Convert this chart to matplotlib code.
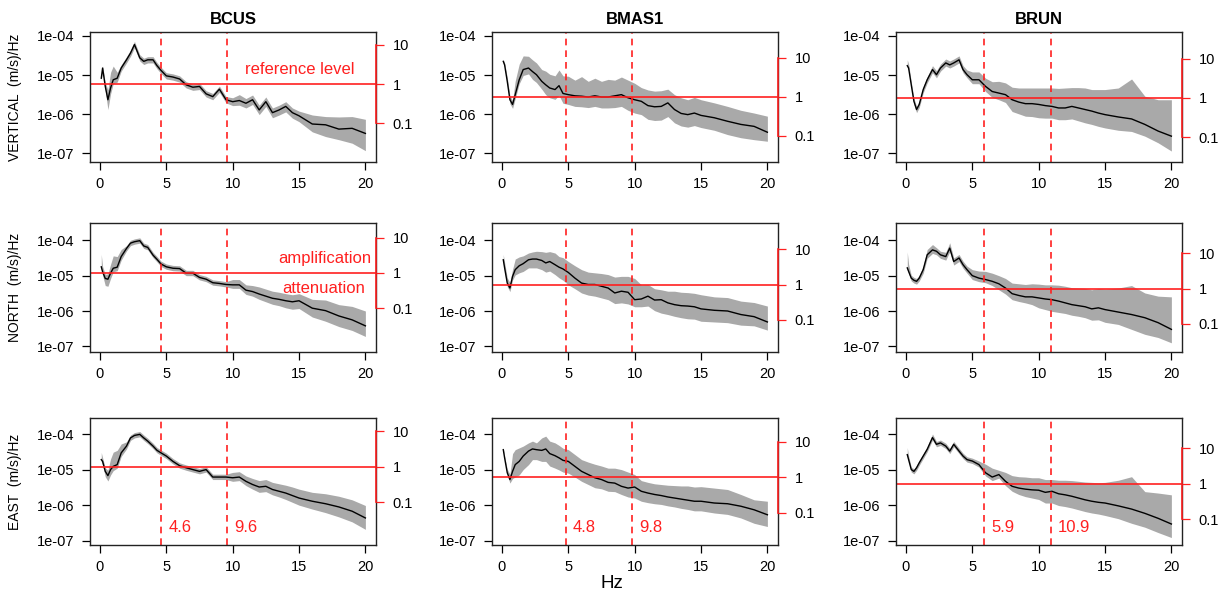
import numpy as np
import matplotlib
matplotlib.use('Agg')
import matplotlib.pyplot as plt

plt.rcParams['font.family'] = ['Liberation Sans', 'DejaVu Sans']

# frequency grid (Hz) on which the curves were read
freq = [0.1, 0.2, 0.4, 0.6, 0.8, 1.0, 1.3, 1.6, 2.0, 2.3, 2.6, 3.0, 3.3, 3.6, 4.0, 4.3, 4.6,
        5.0, 5.5, 6.0, 6.5, 7.0, 7.5, 8.0, 8.5, 9.0, 9.5, 10, 10.5, 11, 11.5, 12, 12.5,
        13, 13.5, 14, 14.5, 15, 16, 17, 18, 19, 20]

# median spectra, log10((m/s)/Hz), and band widths above / below (log10 units)
bcus_v_med = [-5.08, -4.82, -5.29, -5.63, -5.33, -5.12, -5.08, -4.82, -4.61, -4.44, -4.22, -4.56, -4.65,
              -4.61, -4.61, -4.76, -4.88, -5.02, -5.05, -5.10, -5.25, -5.31, -5.29, -5.48, -5.55, -5.36,
              -5.63, -5.68, -5.65, -5.72, -5.63, -5.89, -5.68, -5.96, -5.89, -5.80, -5.96, -6.04, -6.25,
              -6.27, -6.38, -6.36, -6.49]
bcus_v_up = [0.05, 0.05, 0.1, 0.25, 0.4, 0.35, 0.15, 0.08, 0.08, 0.08, 0.08, 0.08, 0.08, 0.08, 0.08,
             0.08, 0.08, 0.08, 0.08, 0.08, 0.08, 0.08, 0.08, 0.08, 0.08, 0.08, 0.08, 0.1, 0.15, 0.12,
             0.12, 0.12, 0.12, 0.12, 0.12, 0.12, 0.12, 0.12, 0.23, 0.21, 0.31, 0.3, 0.36]
bcus_v_dn = [0.05, 0.05, 0.1, 0.25, 0.15, 0.1, 0.1, 0.08, 0.08, 0.08, 0.08, 0.08, 0.08, 0.08, 0.08,
             0.08, 0.08, 0.08, 0.08, 0.08, 0.08, 0.08, 0.08, 0.08, 0.08, 0.08, 0.08, 0.1, 0.12, 0.12,
             0.12, 0.12, 0.12, 0.13, 0.13, 0.14, 0.14, 0.15, 0.2, 0.3, 0.27, 0.38, 0.44]

bcus_n_med = [-4.75, -4.89, -5.08, -5.10, -4.93, -4.79, -4.76, -4.46, -4.23, -4.08, -4.04, -4.01, -4.16,
              -4.20, -4.42, -4.54, -4.67, -4.75, -4.79, -4.80, -4.93, -4.93, -5.05, -5.10, -5.20, -5.22,
              -5.25, -5.26, -5.26, -5.41, -5.45, -5.52, -5.58, -5.64, -5.67, -5.71, -5.74, -5.71, -5.92,
              -5.99, -6.14, -6.25, -6.42]
bcus_n_up = [0.35, 0.15, 0.12, 0.15, 0.25, 0.35, 0.3, 0.2, 0.08, 0.08, 0.08, 0.08, 0.08, 0.08, 0.08,
             0.08, 0.08, 0.08, 0.08, 0.08, 0.08, 0.08, 0.08, 0.08, 0.08, 0.08, 0.08, 0.15, 0.15, 0.15,
             0.17, 0.2, 0.2, 0.2, 0.2, 0.2, 0.2, 0.2, 0.25, 0.3, 0.32, 0.38, 0.42]
bcus_n_dn = [0.05, 0.1, 0.2, 0.2, 0.15, 0.1, 0.1, 0.1, 0.07, 0.07, 0.07, 0.07, 0.07, 0.07, 0.07,
             0.07, 0.07, 0.07, 0.07, 0.07, 0.07, 0.07, 0.07, 0.07, 0.07, 0.07, 0.07, 0.1, 0.1, 0.12,
             0.13, 0.15, 0.16, 0.17, 0.18, 0.2, 0.21, 0.22, 0.25, 0.3, 0.3, 0.3, 0.3]

bcus_e_med = [-4.72, -4.77, -5.05, -5.17, -5.00, -4.91, -4.86, -4.53, -4.34, -4.11, -4.04, -4.01, -4.11,
              -4.20, -4.34, -4.46, -4.53, -4.62, -4.77, -4.89, -4.95, -5.00, -5.05, -5.00, -5.21, -5.21,
              -5.21, -5.23, -5.21, -5.33, -5.42, -5.49, -5.47, -5.56, -5.61, -5.66, -5.73, -5.80, -5.89,
              -5.96, -6.05, -6.17, -6.36]
bcus_e_up = [0.2, 0.1, 0.1, 0.15, 0.3, 0.4, 0.4, 0.25, 0.12, 0.08, 0.08, 0.08, 0.08, 0.08, 0.08,
             0.08, 0.08, 0.08, 0.08, 0.08, 0.08, 0.08, 0.08, 0.08, 0.08, 0.08, 0.08, 0.15, 0.15, 0.15,
             0.17, 0.18, 0.19, 0.2, 0.21, 0.22, 0.24, 0.25, 0.25, 0.28, 0.3, 0.32, 0.35]
bcus_e_dn = [0.05, 0.1, 0.15, 0.15, 0.15, 0.12, 0.1, 0.1, 0.08, 0.07, 0.07, 0.07, 0.07, 0.07, 0.07,
             0.07, 0.07, 0.07, 0.07, 0.07, 0.07, 0.07, 0.07, 0.07, 0.07, 0.07, 0.07, 0.1, 0.1, 0.12,
             0.13, 0.15, 0.15, 0.15, 0.16, 0.18, 0.19, 0.2, 0.22, 0.25, 0.28, 0.3, 0.32]

bmas_v_med = [-4.65, -4.74, -5.16, -5.63, -5.75, -5.50, -5.12, -4.86, -4.82, -4.91, -4.99, -5.16, -5.25,
              -5.33, -5.37, -5.27, -5.47, -5.50, -5.53, -5.54, -5.56, -5.53, -5.56, -5.56, -5.53, -5.50,
              -5.58, -5.63, -5.67, -5.78, -5.81, -5.80, -5.71, -5.88, -5.98, -6.01, -5.97, -6.03, -6.09,
              -6.18, -6.26, -6.31, -6.46]
bmas_v_up = [0.05, 0.05, 0.1, 0.1, 0.1, 0.35, 0.4, 0.35, 0.3, 0.3, 0.3, 0.3, 0.35, 0.35, 0.35,
             0.4, 0.45, 0.47, 0.4, 0.5, 0.4, 0.45, 0.4, 0.45, 0.4, 0.45, 0.45, 0.42, 0.35, 0.4,
             0.4, 0.4, 0.35, 0.38, 0.4, 0.38, 0.4, 0.4, 0.38, 0.38, 0.36, 0.34, 0.41]
bmas_v_dn = [0.05, 0.05, 0.1, 0.1, 0.1, 0.1, 0.1, 0.15, 0.15, 0.2, 0.2, 0.2, 0.25, 0.25, 0.25,
             0.25, 0.25, 0.25, 0.27, 0.27, 0.27, 0.27, 0.28, 0.28, 0.3, 0.3, 0.32, 0.34, 0.34, 0.35,
             0.35, 0.35, 0.35, 0.34, 0.32, 0.32, 0.32, 0.31, 0.32, 0.34, 0.34, 0.34, 0.23]

bmas_n_med = [-4.55, -4.78, -5.21, -5.35, -5.02, -4.83, -4.72, -4.66, -4.55, -4.53, -4.53, -4.57, -4.64,
              -4.60, -4.69, -4.76, -4.81, -4.91, -5.07, -5.21, -5.25, -5.25, -5.30, -5.35, -5.49, -5.44,
              -5.47, -5.68, -5.66, -5.58, -5.69, -5.68, -5.77, -5.82, -5.85, -5.86, -5.88, -5.94, -5.98,
              -6.00, -6.10, -6.16, -6.31]
bmas_n_up = [0.15, 0.15, 0.15, 0.15, 0.2, 0.3, 0.25, 0.22, 0.19, 0.2, 0.22, 0.25, 0.3, 0.28, 0.33,
             0.3, 0.32, 0.31, 0.35, 0.38, 0.35, 0.33, 0.36, 0.38, 0.45, 0.42, 0.45, 0.6, 0.4, 0.33,
             0.32, 0.28, 0.33, 0.38, 0.38, 0.38, 0.38, 0.4, 0.38, 0.38, 0.38, 0.4, 0.45]
bmas_n_dn = [0.1, 0.1, 0.1, 0.1, 0.1, 0.15, 0.2, 0.22, 0.23, 0.25, 0.25, 0.26, 0.26, 0.27, 0.28,
             0.3, 0.32, 0.35, 0.3, 0.28, 0.3, 0.33, 0.33, 0.33, 0.3, 0.33, 0.33, 0.2, 0.22, 0.28,
             0.3, 0.38, 0.33, 0.33, 0.34, 0.36, 0.35, 0.35, 0.33, 0.33, 0.3, 0.26, 0.23]

bmas_e_med = [-4.44, -4.67, -5.09, -5.28, -5.05, -4.86, -4.77, -4.62, -4.48, -4.42, -4.44, -4.46, -4.42,
              -4.55, -4.61, -4.67, -4.74, -4.77, -4.91, -5.05, -5.14, -5.23, -5.28, -5.36, -5.38, -5.47,
              -5.52, -5.49, -5.61, -5.66, -5.70, -5.73, -5.77, -5.80, -5.83, -5.86, -5.89, -5.89, -5.94,
              -5.96, -6.03, -6.13, -6.27]
bmas_e_up = [0.05, 0.05, 0.1, 0.15, 0.5, 0.42, 0.38, 0.28, 0.23, 0.22, 0.19, 0.35, 0.36, 0.35, 0.36,
             0.35, 0.34, 0.33, 0.33, 0.33, 0.35, 0.38, 0.38, 0.4, 0.42, 0.47, 0.45, 0.35, 0.3, 0.3,
             0.3, 0.31, 0.33, 0.35, 0.37, 0.4, 0.4, 0.41, 0.42, 0.4, 0.33, 0.28, 0.38]
bmas_e_dn = [0.05, 0.05, 0.05, 0.1, 0.2, 0.35, 0.38, 0.38, 0.38, 0.3, 0.28, 0.31, 0.35, 0.35, 0.35,
             0.34, 0.33, 0.33, 0.3, 0.28, 0.28, 0.28, 0.26, 0.25, 0.24, 0.23, 0.25, 0.31, 0.28, 0.27,
             0.26, 0.25, 0.25, 0.25, 0.26, 0.26, 0.27, 0.27, 0.28, 0.3, 0.33, 0.38, 0.33]

brun_v_med = [-4.76, -4.82, -5.25, -5.67, -5.88, -5.75, -5.37, -5.12, -4.86, -4.99, -4.82, -4.69, -4.74,
              -4.69, -4.61, -4.86, -4.99, -5.12, -5.12, -5.29, -5.42, -5.46, -5.50, -5.63, -5.69, -5.73,
              -5.73, -5.75, -5.78, -5.80, -5.84, -5.84, -5.80, -5.84, -5.88, -5.92, -5.97, -6.01, -6.07,
              -6.12, -6.26, -6.43, -6.56]
brun_v_up = [0.15, 0.1, 0.08, 0.08, 0.08, 0.08, 0.08, 0.08, 0.1, 0.1, 0.1, 0.1, 0.1, 0.1, 0.1,
             0.1, 0.12, 0.2, 0.2, 0.21, 0.25, 0.3, 0.3, 0.32, 0.36, 0.4, 0.4, 0.42, 0.45, 0.47,
             0.5, 0.51, 0.48, 0.52, 0.55, 0.55, 0.6, 0.64, 0.74, 1.02, 0.72, 0.8, 0.93]
brun_v_dn = [0.05, 0.05, 0.08, 0.08, 0.08, 0.08, 0.08, 0.08, 0.08, 0.08, 0.08, 0.08, 0.08, 0.08, 0.08,
             0.08, 0.08, 0.1, 0.1, 0.13, 0.15, 0.17, 0.2, 0.3, 0.3, 0.32, 0.33, 0.34, 0.32, 0.3,
             0.3, 0.3, 0.32, 0.33, 0.34, 0.34, 0.34, 0.34, 0.34, 0.32, 0.3, 0.3, 0.38]

brun_n_med = [-4.78, -4.88, -5.07, -5.13, -5.16, -5.07, -4.83, -4.41, -4.27, -4.31, -4.41, -4.46, -4.22,
              -4.60, -4.50, -4.69, -4.83, -5.00, -5.07, -5.11, -5.16, -5.23, -5.35, -5.51, -5.56, -5.60,
              -5.60, -5.63, -5.66, -5.68, -5.72, -5.77, -5.82, -5.85, -5.88, -5.94, -5.91, -5.96, -6.03,
              -6.10, -6.19, -6.33, -6.52]
brun_n_up = [0.45, 0.2, 0.08, 0.08, 0.08, 0.08, 0.1, 0.15, 0.15, 0.1, 0.1, 0.12, 0.15, 0.1, 0.1,
             0.1, 0.1, 0.17, 0.2, 0.23, 0.23, 0.23, 0.27, 0.3, 0.33, 0.35, 0.37, 0.39, 0.4, 0.42,
             0.45, 0.47, 0.48, 0.5, 0.52, 0.54, 0.55, 0.58, 0.68, 0.82, 0.7, 0.75, 0.92]
brun_n_dn = [0.05, 0.05, 0.08, 0.08, 0.08, 0.08, 0.1, 0.1, 0.1, 0.1, 0.1, 0.1, 0.1, 0.1, 0.1,
             0.1, 0.1, 0.11, 0.1, 0.09, 0.12, 0.17, 0.17, 0.17, 0.17, 0.17, 0.22, 0.28, 0.3, 0.33,
             0.32, 0.3, 0.3, 0.3, 0.31, 0.32, 0.34, 0.36, 0.35, 0.42, 0.47, 0.42, 0.38]

brun_e_med = [-4.58, -4.72, -5.00, -5.05, -4.95, -4.81, -4.62, -4.43, -4.10, -4.29, -4.25, -4.34, -4.48,
              -4.29, -4.48, -4.62, -4.72, -4.76, -4.86, -5.09, -5.21, -5.14, -5.33, -5.47, -5.52, -5.55,
              -5.57, -5.58, -5.64, -5.61, -5.68, -5.71, -5.75, -5.80, -5.85, -5.89, -5.92, -5.94, -6.02,
              -6.11, -6.23, -6.37, -6.53]
brun_e_up = [0.2, 0.1, 0.07, 0.07, 0.07, 0.07, 0.07, 0.07, 0.1, 0.08, 0.08, 0.08, 0.08, 0.08, 0.08,
             0.08, 0.08, 0.08, 0.1, 0.24, 0.25, 0.12, 0.25, 0.3, 0.32, 0.34, 0.34, 0.35, 0.36, 0.33,
             0.38, 0.41, 0.44, 0.47, 0.5, 0.53, 0.55, 0.58, 0.72, 0.91, 0.61, 0.71, 0.82]
brun_e_dn = [0.05, 0.05, 0.07, 0.07, 0.07, 0.07, 0.07, 0.07, 0.07, 0.07, 0.07, 0.07, 0.07, 0.07, 0.07,
             0.07, 0.07, 0.07, 0.07, 0.09, 0.1, 0.1, 0.12, 0.14, 0.18, 0.21, 0.23, 0.26, 0.3, 0.33,
             0.33, 0.33, 0.33, 0.33, 0.33, 0.33, 0.33, 0.35, 0.36, 0.4, 0.39, 0.4, 0.38]

stations = ['BCUS', 'BMAS1', 'BRUN']
components = ['VERTICAL', 'NORTH', 'EAST']
cut_low = [4.6, 4.8, 5.9]
cut_high = [9.6, 9.8, 10.9]
cut_labels = [['4.6', '9.6'], ['4.8', '9.8'], ['5.9', '10.9']]
# reference level (amplification = 1) for each station: vertical, north, east
ref_bcus = [5.9e-6, 1.2e-5, 1.2e-5]
ref_bmas = [2.8e-6, 5.6e-6, 6.1e-6]
ref_brun = [2.6e-6, 4.3e-6, 4.0e-6]

panels = {
    ('BCUS', 0): (bcus_v_med, bcus_v_up, bcus_v_dn),
    ('BCUS', 1): (bcus_n_med, bcus_n_up, bcus_n_dn),
    ('BCUS', 2): (bcus_e_med, bcus_e_up, bcus_e_dn),
    ('BMAS1', 0): (bmas_v_med, bmas_v_up, bmas_v_dn),
    ('BMAS1', 1): (bmas_n_med, bmas_n_up, bmas_n_dn),
    ('BMAS1', 2): (bmas_e_med, bmas_e_up, bmas_e_dn),
    ('BRUN', 0): (brun_v_med, brun_v_up, brun_v_dn),
    ('BRUN', 1): (brun_n_med, brun_n_up, brun_n_dn),
    ('BRUN', 2): (brun_e_med, brun_e_up, brun_e_dn),
}
refs = {'BCUS': ref_bcus, 'BMAS1': ref_bmas, 'BRUN': ref_brun}

# layout (pixels of the 1228x593 figure)
W, H = 1228, 593
col_left = [90, 492, 896]
col_width = 286
row_top = [32, 223, 418]
row_bottom = [162, 352, 545]
row_ylim = [(-7.22, -3.90), (-7.16, -3.51), (-7.12, -3.55)]

fig = plt.figure(figsize=(W / 100, H / 100), dpi=100)
f = np.array(freq)
red = '#ff2020'

for ci, st in enumerate(stations):
    for ri, comp in enumerate(components):
        med, up, dn = [np.array(a) for a in panels[(st, ri)]]
        ref = refs[st][ri]
        ax = fig.add_axes([col_left[ci] / W, 1 - row_bottom[ri] / H,
                           col_width / W, (row_bottom[ri] - row_top[ri]) / H])
        ax.fill_between(f, 10 ** (med + up), 10 ** (med - dn), color='#a9a9a9', lw=0)
        ax.plot(f, 10 ** med, color='black', lw=1.0)
        ax.set_yscale('log')
        lo, hi = row_ylim[ri]
        ax.set_ylim(10 ** lo, 10 ** hi)
        ax.set_xlim(-0.75, 20.8)
        ax.set_xticks([0, 5, 10, 15, 20])
        ax.set_yticks([1e-7, 1e-6, 1e-5, 1e-4])
        ax.set_yticklabels(['1e-07', '1e-06', '1e-05', '1e-04'])
        ax.yaxis.set_minor_locator(matplotlib.ticker.NullLocator())
        ax.tick_params(direction='out', length=6, width=0.9, labelsize=10.5, pad=5)
        for s in ax.spines.values():
            s.set_linewidth(1.0)
            s.set_color('#222222')

        ax.axhline(ref, color=red, lw=1.2)
        for c in (cut_low[ci], cut_high[ci]):
            ax.axvline(c, color=red, lw=1.2, ls=(0, (4, 3)))

        ax2 = ax.twinx()
        ax2.set_yscale('log')
        ax2.set_ylim(10 ** lo / ref, 10 ** hi / ref)
        ax2.set_yticks([0.1, 1, 10])
        ax2.set_yticklabels(['0.1', '1', '10'])
        ax2.yaxis.set_minor_locator(matplotlib.ticker.NullLocator())
        ax2.tick_params(axis='y', direction='out', length=6, width=0.9, colors=red,
                        labelcolor='black', labelsize=10.5, pad=6)
        for k in ('top', 'bottom', 'left'):
            ax2.spines[k].set_visible(False)
        ax2.spines['right'].set_bounds(0.1, 10)
        ax2.spines['right'].set_color(red)
        ax2.spines['right'].set_linewidth(1.2)

        if ri == 0:
            ax.set_title(st, fontweight='bold', fontsize=12, pad=6)
        if ci == 0:
            yc = 1 - (row_top[ri] + row_bottom[ri]) / 2 / H
            fig.text(15 / W, yc, comp + '  (m/s)/Hz', rotation=90, ha='center', va='center',
                     fontsize=10)
        if ri == 2:
            for c, lab in zip((cut_low[ci], cut_high[ci]), cut_labels[ci]):
                ax.text(c + 0.55, 10 ** -6.64, lab, color=red, fontsize=12, ha='left', va='center')

        if st == 'BCUS' and ri == 0:
            ax.annotate('reference level', (10.9, ref), xytext=(0, 5), textcoords='offset points',
                        color=red, fontsize=12, ha='left', va='bottom')
        if st == 'BCUS' and ri == 1:
            ax.annotate('amplification', (20.45, ref), xytext=(0, 5), textcoords='offset points',
                        color=red, fontsize=12, ha='right', va='bottom')
            ax.annotate('attenuation', (20.0, ref), xytext=(0, -6), textcoords='offset points',
                        color=red, fontsize=12, ha='right', va='top')

fig.text(612 / W, 1 - 583 / H, 'Hz', ha='center', va='center', fontsize=13.5)

fig.savefig('out.png', dpi=100)
